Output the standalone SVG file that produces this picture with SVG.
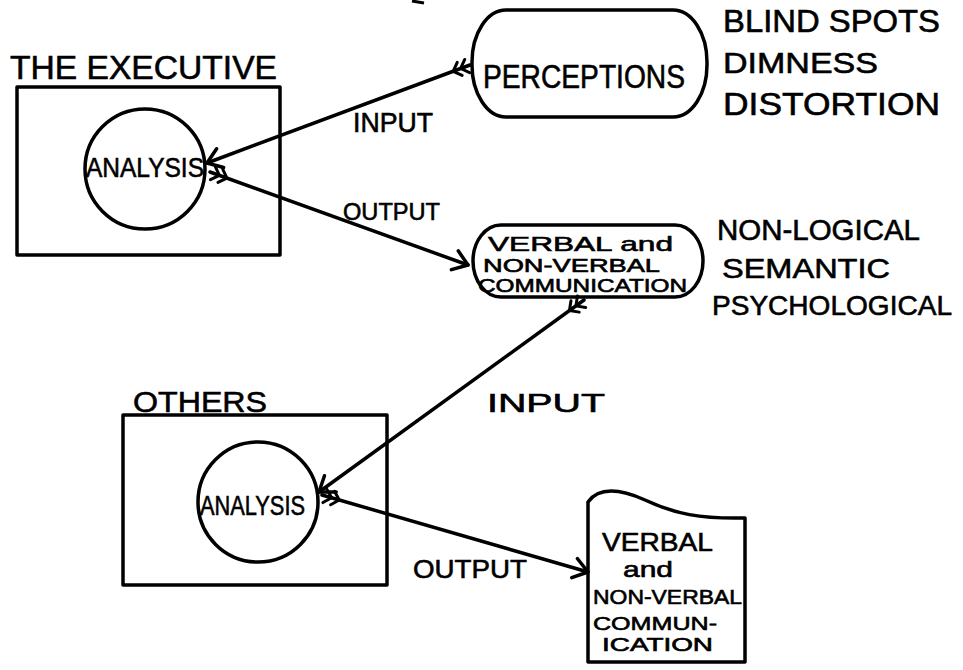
<svg xmlns="http://www.w3.org/2000/svg" width="963" height="670" viewBox="0 0 963 670">
<style>
  .shape { fill: none; stroke: #000; stroke-width: 3.5; stroke-linejoin: round; }
  .conn { fill: none; stroke: #000; stroke-width: 3.5; stroke-linecap: round; }
  text { font-family: "Liberation Sans", "DejaVu Sans", sans-serif; fill: #000; stroke: #000; stroke-width: 0.6; }
</style>
<defs>
  <marker id="head" markerUnits="userSpaceOnUse" markerWidth="24" markerHeight="24" refX="20" refY="12" orient="auto" overflow="visible">
    <path d="M6,2 L20,12 L6,22" fill="none" stroke="#000" stroke-width="3.5" stroke-linecap="round" stroke-linejoin="round"/>
  </marker>
  <marker id="feather" markerUnits="userSpaceOnUse" markerWidth="30" markerHeight="24" refX="0" refY="12" orient="auto" overflow="visible">
    <path d="M3,5 L10,12 L3,19 M11,5 L18,12 L11,19" fill="none" stroke="#000" stroke-width="3" stroke-linecap="round" stroke-linejoin="round"/>
  </marker>
</defs>
<rect width="963" height="670" fill="#fff"/>

<path d="M412,1 L424,3" stroke="#000" stroke-width="3" fill="none"/>

<g id="executive">
  <text x="10" y="79" font-size="34" textLength="267" lengthAdjust="spacingAndGlyphs">THE EXECUTIVE</text>
  <rect class="shape" x="17" y="87" width="263" height="168"/>
  <g id="exec-analysis">
    <circle class="shape" cx="145" cy="169" r="60"/>
    <text x="86" y="177" font-size="28" textLength="118" lengthAdjust="spacingAndGlyphs">ANALYSIS</text>
  </g>
</g>

<g id="perceptions">
  <rect class="shape" x="472" y="10" width="235" height="107" rx="34" ry="52"/>
  <text x="483" y="88" font-size="33" textLength="202" lengthAdjust="spacingAndGlyphs">PERCEPTIONS</text>
</g>

<g id="perception-notes">
  <text x="723" y="32" font-size="31" textLength="217" lengthAdjust="spacingAndGlyphs">BLIND SPOTS</text>
  <text x="723" y="73" font-size="30" textLength="155" lengthAdjust="spacingAndGlyphs">DIMNESS</text>
  <text x="723" y="115" font-size="31" textLength="217" lengthAdjust="spacingAndGlyphs">DISTORTION</text>
</g>

<g id="verbal-comm">
  <rect class="shape" x="473" y="225" width="230" height="72" rx="28" ry="36"/>
  <text x="488" y="251" font-size="21" textLength="185" lengthAdjust="spacingAndGlyphs">VERBAL and</text>
  <text x="483" y="272" font-size="18" textLength="177" lengthAdjust="spacingAndGlyphs">NON-VERBAL</text>
  <text x="478" y="292" font-size="18" textLength="209" lengthAdjust="spacingAndGlyphs">COMMUNICATION</text>
</g>

<g id="comm-notes">
  <text x="717" y="240" font-size="29" textLength="203" lengthAdjust="spacingAndGlyphs">NON-LOGICAL</text>
  <text x="722" y="278" font-size="28" textLength="168" lengthAdjust="spacingAndGlyphs">SEMANTIC</text>
  <text x="712" y="315" font-size="28" textLength="240" lengthAdjust="spacingAndGlyphs">PSYCHOLOGICAL</text>
</g>

<g id="others">
  <text x="133" y="412" font-size="30" textLength="134" lengthAdjust="spacingAndGlyphs">OTHERS</text>
  <rect class="shape" x="123" y="415" width="264" height="170"/>
  <g id="others-analysis">
    <circle class="shape" cx="258" cy="502" r="60"/>
    <text x="200" y="515" font-size="28" textLength="105" lengthAdjust="spacingAndGlyphs">ANALYSIS</text>
  </g>
</g>

<g id="document">
  <path class="shape" d="M588,662 L588,502 C598,488 618,488 645,500 C675,514 700,519 745,518 L745,662 Z"/>
  <text x="602" y="551" font-size="25" textLength="111" lengthAdjust="spacingAndGlyphs">VERBAL</text>
  <text x="623" y="577" font-size="22" textLength="50" lengthAdjust="spacingAndGlyphs">and</text>
  <text x="593" y="604" font-size="20" textLength="149" lengthAdjust="spacingAndGlyphs">NON-VERBAL</text>
  <text x="593" y="630" font-size="19" textLength="124" lengthAdjust="spacingAndGlyphs">COMMUN-</text>
  <text x="602" y="651" font-size="18" textLength="111" lengthAdjust="spacingAndGlyphs">ICATION</text>
</g>

<g id="connectors">
  <path class="conn" d="M470,65 L207,163" marker-start="url(#feather)" marker-end="url(#head)"/>
  <text x="353" y="132" font-size="28" textLength="80" lengthAdjust="spacingAndGlyphs">INPUT</text>
  <path class="conn" d="M210,172 L468,265" marker-start="url(#feather)" marker-end="url(#head)"/>
  <text x="343" y="220" font-size="24" textLength="97" lengthAdjust="spacingAndGlyphs">OUTPUT</text>
  <path class="conn" d="M584,300 L319,492" marker-start="url(#feather)" marker-end="url(#head)"/>
  <text x="487" y="412" font-size="26" textLength="118" lengthAdjust="spacingAndGlyphs">INPUT</text>
  <path class="conn" d="M322,495 L588,572" marker-start="url(#feather)" marker-end="url(#head)"/>
  <text x="413" y="578" font-size="26" textLength="114" lengthAdjust="spacingAndGlyphs">OUTPUT</text>
</g>
</svg>
